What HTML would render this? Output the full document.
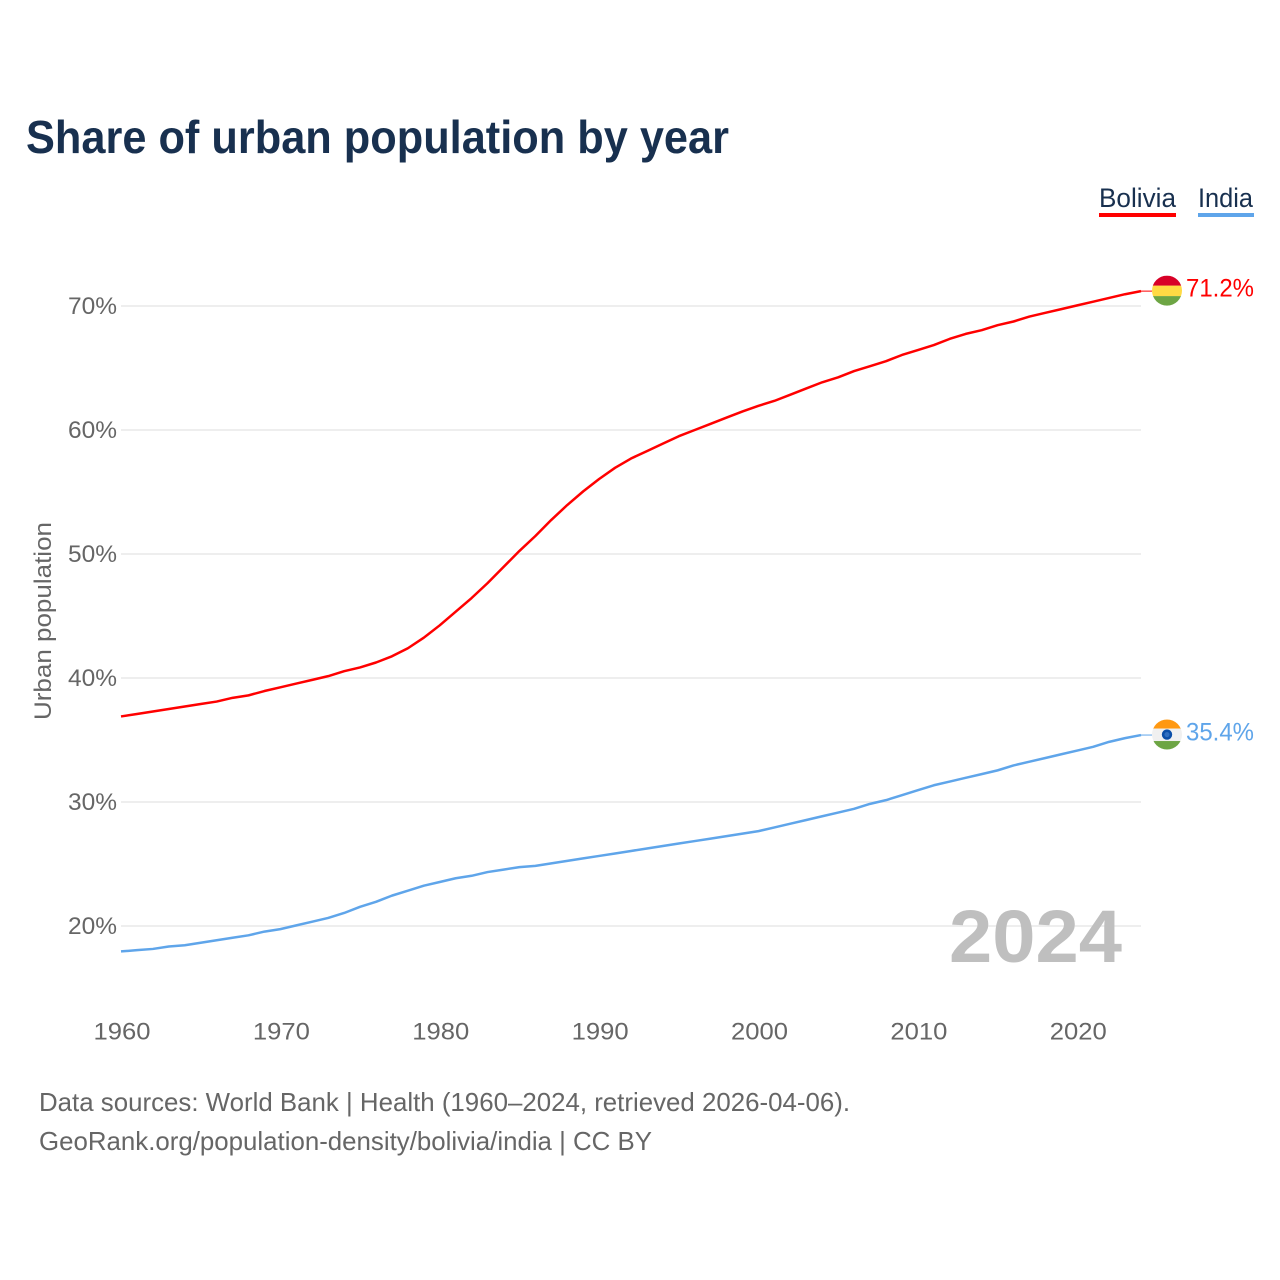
<!DOCTYPE html>
<html lang="en">
<head>
<meta charset="utf-8">
<title>Share of urban population by year</title>
<style>
html,body{margin:0;padding:0;background:#fff;width:1280px;height:1280px;overflow:hidden}
svg{display:block}
text{font-family:"Liberation Sans",sans-serif}
</style>
</head>
<body>
<svg id="chart" width="1280" height="1280" viewBox="0 0 1280 1280" xmlns="http://www.w3.org/2000/svg">
  <rect width="1280" height="1280" fill="#fff"/>
  <text x="26" y="153" font-size="46" font-weight="700" fill="#18304f" textLength="703" lengthAdjust="spacingAndGlyphs">Share of urban population by year</text>
  <g>
    <text x="1099" y="207" font-size="27" fill="#18304f" textLength="77" lengthAdjust="spacingAndGlyphs">Bolivia</text>
    <rect x="1099" y="213" width="77" height="4" fill="#ff0000"/>
  </g>
  <g>
    <text x="1198" y="207" font-size="27" fill="#18304f" textLength="55" lengthAdjust="spacingAndGlyphs">India</text>
    <rect x="1198" y="213" width="56" height="4" fill="#5fa5ea"/>
  </g>
  <g id="grid"></g>
  <g id="yticks"></g>
  <g id="xticks"></g>
  <text transform="translate(51,621) rotate(-90)" text-anchor="middle" font-size="24" fill="#666" textLength="198" lengthAdjust="spacingAndGlyphs">Urban population</text>
  <text x="1122" y="962" text-anchor="end" font-size="74" font-weight="700" fill="#bfbfbf" textLength="173" lengthAdjust="spacingAndGlyphs">2024</text>
  <g id="series"></g>
  <g id="flag-bolivia"></g>
  <g id="flag-india"></g>
  <text x="39" y="1111" font-size="26" fill="#666" textLength="811" lengthAdjust="spacingAndGlyphs">Data sources: World Bank | Health (1960–2024, retrieved 2026-04-06).</text>
  <text x="39" y="1150" font-size="26" fill="#666" textLength="613" lengthAdjust="spacingAndGlyphs">GeoRank.org/population-density/bolivia/india | CC BY</text>
</svg>
<script>
const years = [1960,1961,1962,1963,1964,1965,1966,1967,1968,1969,1970,1971,1972,1973,1974,1975,1976,1977,1978,1979,1980,1981,1982,1983,1984,1985,1986,1987,1988,1989,1990,1991,1992,1993,1994,1995,1996,1997,1998,1999,2000,2001,2002,2003,2004,2005,2006,2007,2008,2009,2010,2011,2012,2013,2014,2015,2016,2017,2018,2019,2020,2021,2022,2023,2024];
const boliviaValues = [36.9,37.1,37.3,37.5,37.7,37.9,38.1,38.4,38.6,38.95,39.25,39.55,39.85,40.15,40.55,40.85,41.25,41.75,42.4,43.25,44.25,45.35,46.45,47.65,48.95,50.25,51.45,52.75,53.95,55.05,56.05,56.95,57.7,58.3,58.9,59.5,60,60.5,61,61.5,61.95,62.35,62.85,63.35,63.85,64.25,64.75,65.15,65.55,66.05,66.45,66.85,67.35,67.75,68.05,68.45,68.75,69.15,69.45,69.75,70.05,70.35,70.65,70.95,71.2];
const indiaValues = [17.95,18.05,18.15,18.35,18.45,18.65,18.85,19.05,19.25,19.55,19.75,20.05,20.35,20.65,21.05,21.55,21.95,22.45,22.85,23.25,23.55,23.85,24.05,24.35,24.55,24.75,24.85,25.05,25.25,25.45,25.65,25.85,26.05,26.25,26.45,26.65,26.85,27.05,27.25,27.45,27.65,27.95,28.25,28.55,28.85,29.15,29.45,29.85,30.15,30.55,30.95,31.35,31.65,31.95,32.25,32.55,32.95,33.25,33.55,33.85,34.15,34.45,34.85,35.15,35.4];
const yTicks = [20,30,40,50,60,70];
const xTicks = [1960,1970,1980,1990,2000,2010,2020];

const NS = 'http://www.w3.org/2000/svg';
const xScale = y => 121 + (y - 1960) * (1141 - 121) / 64;
const yScale = v => 306 + (70 - v) * 12.4;

function make(parent, tag, attrs, txt) {
  const el = document.createElementNS(NS, tag);
  for (const k in attrs) el.setAttribute(k, attrs[k]);
  if (txt !== undefined) el.textContent = txt;
  parent.appendChild(el);
  return el;
}

const grid = document.getElementById('grid');
const yG = document.getElementById('yticks');
yTicks.forEach(t => {
  const line = make(grid, 'line', {x1:121, x2:1141, y1:yScale(t), y2:yScale(t), stroke:'#eeeeee', 'stroke-width':2});
  
  
  const lab = make(yG, 'text', {x:117, y:yScale(t)+8, 'text-anchor':'end', 'font-size':24, fill:'#666', textLength:49, lengthAdjust:'spacingAndGlyphs'}, t + '%');
  
  
});

const xG = document.getElementById('xticks');
xTicks.forEach(t => {
  const lab = make(xG, 'text', {x:xScale(t)+1, y:1039.5, 'text-anchor':'middle', 'font-size':24, fill:'#666', textLength:57, lengthAdjust:'spacingAndGlyphs'}, t);
  
  
});

const seriesG = document.getElementById('series');
function drawSeries(values, color, name) {
  const pts = values.map((v, i) => xScale(years[i]).toFixed(2) + ',' + yScale(v).toFixed(2));
  const lastY = yScale(values[values.length - 1]);
  const line = make(seriesG, 'polyline', {points:pts.join(' '), fill:'none', stroke:color, 'stroke-width':2.5, 'stroke-linejoin':'round'});
  
  
  const lead = make(seriesG, 'line', {x1:xScale(years[years.length - 1]), x2:1152, y1:lastY, y2:lastY, stroke:color, 'stroke-width':1});
  
  
  const lab = make(seriesG, 'text', {x:1254, y:lastY+5.5, 'text-anchor':'end', 'font-size':25, fill:color, textLength:68, lengthAdjust:'spacingAndGlyphs'}, values[values.length - 1].toFixed(1) + '%');
  
  
}
drawSeries(boliviaValues, '#ff0000', 'bolivia');
drawSeries(indiaValues, '#5fa5ea', 'india');

function drawFlag(gId, cy, colors, bands, chakra) {
  const g = document.getElementById(gId);
  const cx = 1167, r = 15;
  const clipId = gId + '-clip';
  const clip = make(g, 'clipPath', {id:clipId});
  make(clip, 'circle', {cx:cx, cy:cy, r:r});
  const inner = make(g, 'g', {'clip-path':'url(#' + clipId + ')'});
  let top = cy - r;
  colors.forEach((c, i) => {
    make(inner, 'rect', {x:cx-r, y:top, width:2*r, height:bands[i]+0.2, fill:c});
    top += bands[i];
  });
  if (chakra) {
    make(g, 'circle', {cx:cx, cy:cy, r:5.2, fill:'#0b4fa8'});
    make(g, 'circle', {cx:cx, cy:cy, r:2.6, fill:'#2f6fc0'});
  }
}
drawFlag('flag-bolivia', yScale(boliviaValues[boliviaValues.length - 1]) - 0.5, ['#d80027','#ffda44','#6da544'], [10,10.5,10], false);
drawFlag('flag-india', yScale(indiaValues[indiaValues.length - 1]) - 0.5, ['#ff9811','#f0f0f0','#6da544'], [9,12.5,9], true);
</script>
</body>
</html>
